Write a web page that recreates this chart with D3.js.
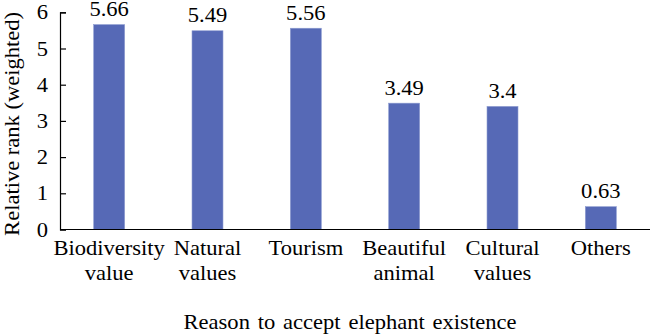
<!DOCTYPE html>
<html><head><meta charset="utf-8">
<script src="https://cdn.jsdelivr.net/npm/d3@7"></script>
<style>
body{margin:0;background:#fff;}
svg text{font-family:"Liberation Serif","Times New Roman",Times,serif !important;fill:#000;}
</style></head>
<body><svg id="c" width="650" height="335"></svg>
<script>
const categories = [["Biodiversity","value"],["Natural","values"],["Tourism"],["Beautiful","animal"],["Cultural","values"],["Others"]];
const values = [5.66, 5.49, 5.56, 3.49, 3.4, 0.63];
const labels = ["5.66","5.49","5.56","3.49","3.4","0.63"];
const yTicks = [0,1,2,3,4,5,6];
const xTitle = "Reason to accept elephant existence";
const yTitle = "Relative rank (weighted)";

const svg = d3.select("#c");
const L=60, R=650, T=12.3, B=229.5;
const FS = 20.5, SX = 1.1;
const keys = categories.map((c,i)=>i);
const x = d3.scaleBand().domain(keys).range([L,R]).paddingInner(0.685).paddingOuter(0.3425);
const y = d3.scaleLinear().domain([0,6]).range([B,T]);

function txt(px, py, s, extra){
  return svg.append("text").attr("transform",`translate(${px},${py})${extra||""} scale(${SX},1)`)
    .attr("text-anchor","middle").attr("font-size",FS).text(s);
}

svg.selectAll("rect.bar").data(values).enter().append("rect")
  .attr("x",(d,i)=>x(i)).attr("width",x.bandwidth())
  .attr("y",d=>y(d)).attr("height",d=>B-y(d))
  .attr("fill","#5669b6").attr("stroke","#8d9bd0").attr("stroke-width",0.6);

values.forEach((d,i)=>txt(x(i)+x.bandwidth()/2, Math.max(y(d)-8.5, 15.5), labels[i]));

// y axis
const ya = svg.append("g").attr("transform",`translate(${L},0)`)
  .call(d3.axisLeft(y).tickValues(yTicks).tickSize(-6).tickPadding(11).tickFormat(d3.format("d")));
ya.select(".domain").attr("stroke","#000").attr("stroke-width",1.2);
ya.selectAll(".tick line").attr("stroke","#000").attr("stroke-width",1.2);
ya.selectAll(".tick text").attr("font-size",FS).attr("fill","#000").attr("transform",`scale(${SX},1)`);

// x axis line
svg.append("line").attr("x1",L).attr("x2",R).attr("y1",B).attr("y2",B).attr("stroke","#000").attr("stroke-width",1.2);

// category labels
categories.forEach((lines,i)=>{
  lines.forEach((s,j)=>txt(x(i)+x.bandwidth()/2, 255 + j*25, s));
});

txt(350, 329, xTitle).attr("font-size",FS).attr("word-spacing",2);
txt(19, (T+B)/2 + 3, yTitle, " rotate(-90)");
</script></body></html>
